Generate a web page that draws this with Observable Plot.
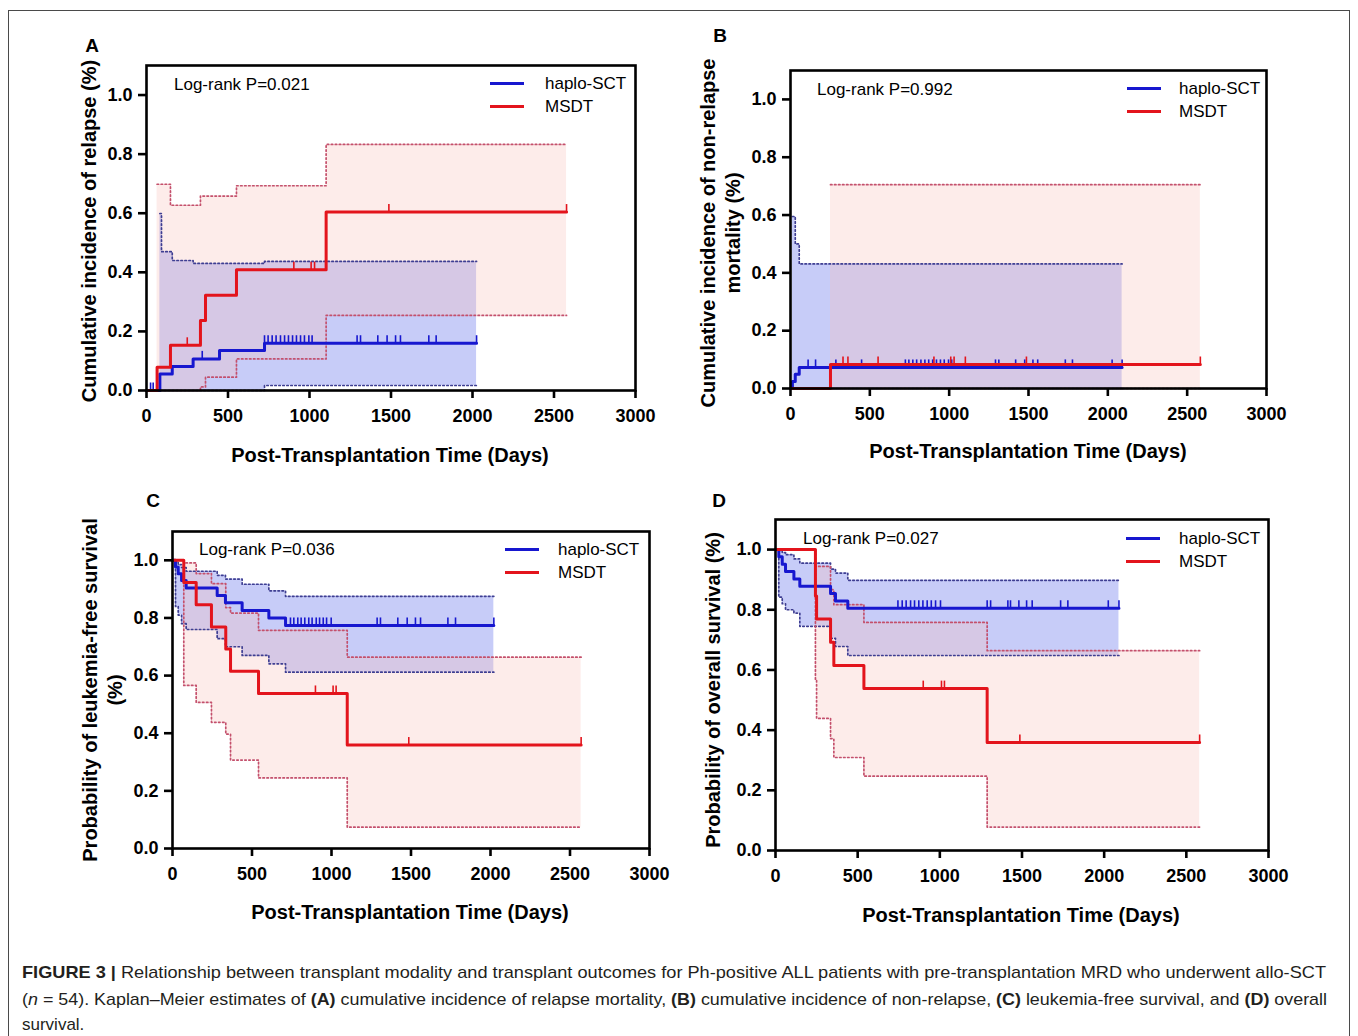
<!DOCTYPE html>
<html>
<head>
<meta charset="utf-8">
<script src="https://cdn.jsdelivr.net/npm/d3@7"></script>
<script src="https://cdn.jsdelivr.net/npm/@observablehq/plot@0.6"></script>
<style>
  html, body { margin: 0; padding: 0; background: #fff; }
  #fig { position: relative; width: 1358px; height: 1036px; overflow: hidden;
         font-family: Arial, "Liberation Sans", Helvetica, sans-serif; color: #000; }
  .t { position: absolute; white-space: nowrap; line-height: 1; }
  .border { position: absolute; left: 8px; top: 10px; width: 1342px; height: 1100px;
            border: 1.5px solid #4a4a4a; box-sizing: border-box; }
  .cap { position: absolute; left: 22px; font-size: 17px; color: #231f20; white-space: nowrap;
         transform-origin: 0 50%; line-height: 1; }
</style>
</head>
<body>
<div id="fig"><div class="border"></div></div>
<script>
// ---------------- shared ticks / labels ----------------
const X_TICKS = [0, 500, 1000, 1500, 2000, 2500, 3000];
const Y_TICKS = [0, 0.2, 0.4, 0.6, 0.8, 1.0];
const SERIES = ["haplo-SCT", "MSDT"];

// ---------------- Panel A : cumulative incidence of relapse ----------------
const A_haploT = [0, 82, 158, 286, 448, 724, 2025];
const A_haploV = [0, 0.056, 0.081, 0.107, 0.135, 0.160, 0.160];
const A_haploCiT = [82, 92, 158, 286, 724, 2025];
const A_haploCiLo = [0, 0, 0, 0, 0.017, 0.017];
const A_haploCiHi = [0.599, 0.470, 0.440, 0.430, 0.437, 0.437];
const A_haploCensor = [25, 41, 342, 724, 746, 771, 795, 822, 847, 871, 896, 920, 945, 969, 996, 1016,
                       1292, 1313, 1419, 1476, 1528, 1558, 1732, 1777, 2025];
const A_msdtT = [0, 65, 147, 331, 362, 552, 1102, 2577];
const A_msdtV = [0, 0.079, 0.153, 0.237, 0.322, 0.409, 0.604, 0.604];
const A_msdtCiT = [65, 147, 331, 362, 552, 1102, 2577];
const A_msdtCiLo = [0, 0, 0.012, 0.045, 0.107, 0.254, 0.254];
const A_msdtCiHi = [0.698, 0.627, 0.658, 0.658, 0.693, 0.833, 0.833];
const A_msdtCensor = [250, 904, 1010, 1031, 1487, 2577];

// ---------------- Panel B : non-relapse mortality ----------------
const B_haploT = [0, 12, 30, 55, 2090];
const B_haploV = [0, 0.024, 0.049, 0.073, 0.073];
const B_haploCiT = [12, 30, 55, 2090];
const B_haploCiLo = [0, 0, 0, 0];
const B_haploCiHi = [0.595, 0.500, 0.431, 0.431];
const B_haploCensor = [111, 158, 286, 448, 724, 746, 771, 795, 822, 847, 871, 896, 920, 945, 969, 996, 1016,
                       1292, 1313, 1419, 1476, 1528, 1558, 1732, 1777, 2027, 2090];
const B_msdtT = [0, 252, 2583];
const B_msdtV = [0, 0.083, 0.083];
const B_msdtCiT = [252, 2583];
const B_msdtCiLo = [0, 0];
const B_msdtCiHi = [0.705, 0.705];
const B_msdtCensor = [331, 362, 552, 904, 1010, 1031, 1102, 1487, 2583];

// ---------------- Panel C : leukemia-free survival ----------------
const C_haploT = [0, 19, 36, 57, 86, 281, 333, 438, 606, 711, 2021];
const C_haploV = [1, 0.977, 0.953, 0.930, 0.904, 0.878, 0.853, 0.826, 0.800, 0.774, 0.774];
const C_haploCiT = C_haploT;
const C_haploCiLo = [1, 0.840, 0.810, 0.780, 0.760, 0.728, 0.700, 0.670, 0.641, 0.612, 0.612];
const C_haploCiHi = [1, 0.995, 0.985, 0.975, 0.962, 0.948, 0.935, 0.917, 0.894, 0.875, 0.875];
const C_haploCensor = [742, 763, 788, 809, 832, 857, 878, 904, 925, 948, 969, 998,
                       1287, 1308, 1417, 1476, 1528, 1560, 1732, 1780, 2021];
const C_msdtT = [0, 71, 149, 245, 335, 365, 541, 1099, 2570];
const C_msdtV = [1, 0.923, 0.846, 0.769, 0.692, 0.615, 0.538, 0.359, 0.359];
const C_msdtCiT = C_msdtT;
const C_msdtCiLo = [1, 0.566, 0.507, 0.438, 0.397, 0.307, 0.245, 0.074, 0.074];
const C_msdtCiHi = [1, 0.991, 0.954, 0.919, 0.836, 0.817, 0.757, 0.664, 0.664];
const C_msdtCensor = [899, 1010, 1029, 1486, 2570];

// ---------------- Panel D : overall survival ----------------
const D_haploT = [0, 20, 41, 61, 112, 148, 335, 365, 440, 2090];
const D_haploV = [1, 0.976, 0.951, 0.927, 0.902, 0.878, 0.854, 0.829, 0.805, 0.805];
const D_haploCiT = D_haploT;
const D_haploCiLo = [1, 0.842, 0.820, 0.800, 0.789, 0.745, 0.705, 0.678, 0.648, 0.648];
const D_haploCiHi = [1, 0.995, 0.990, 0.983, 0.969, 0.955, 0.935, 0.922, 0.898, 0.898];
const D_haploCensor = [745, 771, 795, 822, 846, 872, 897, 923, 948, 974, 1004,
                       1288, 1309, 1414, 1430, 1481, 1528, 1562, 1735, 1779, 2025, 2090];
const D_msdtT = [0, 243, 250, 335, 355, 538, 1288, 2581];
const D_msdtV = [1, 0.846, 0.769, 0.692, 0.615, 0.538, 0.359, 0.359];
const D_msdtCiT = D_msdtT;
const D_msdtCiLo = [1, 0.567, 0.439, 0.372, 0.309, 0.247, 0.078, 0.078];
const D_msdtCiHi = [1, 0.944, 0.944, 0.867, 0.817, 0.758, 0.664, 0.664];
const D_msdtCensor = [899, 1010, 1028, 1487, 2581];

// ---------------- styling constants ----------------
const BLUE = "#1717cf", RED = "#e3141c";
const BLUE_FILL = "#c7ccf8", RED_FILL = "#f8c0b9";
const BLUE_DOT = "#3e3e92", RED_DOT = "#c4506c";
const FONT = 'Arial, "Liberation Sans", Helvetica, sans-serif';

const rows = (t, v) => t.map((d, i) => ({t: d, v: v[i]}));
const ciRows = (t, lo, hi) => t.map((d, i) => ({t: d, lo: lo[i], hi: hi[i]}));
function stepAt(T, V, t) { let v = V[0]; for (let i = 0; i < T.length; i++) if (T[i] <= t) v = V[i]; return v; }
const censorRows = (times, T, V) => times.map(t => ({t, v: stepAt(T, V, t)}));
const censorTick = { draw(ctx) { ctx.moveTo(0, 0); ctx.lineTo(0, -8); } };

const fig = document.getElementById("fig");

function panel(p) {
  const ML = 70, MR = 20, MT = 10, MB = 45;
  const haplo = rows(p.hT, p.hV), msdt = rows(p.mT, p.mV);
  const hCi = ciRows(p.hCiT, p.hCiLo, p.hCiHi), mCi = ciRows(p.mCiT, p.mCiLo, p.mCiHi);
  const hC = censorRows(p.hCens, p.hT, p.hV), mC = censorRows(p.mCens, p.mT, p.mV);
  const chart = Plot.plot({
    width: (p.R - p.L) + ML + MR,
    height: (p.B - p.T) + MT + MB,
    marginLeft: ML, marginRight: MR, marginTop: MT, marginBottom: MB,
    x: {domain: [0, 3000]},
    y: {domain: [0, 1.1]},
    style: {fontFamily: FONT, fontSize: "18px", fontWeight: "bold", color: "#000",
            background: "transparent", overflow: "visible"},
    marks: [
      Plot.areaY(hCi, {x: "t", y1: "lo", y2: "hi", curve: "step-after", fill: BLUE_FILL}),
      Plot.areaY(mCi, {x: "t", y1: "lo", y2: "hi", curve: "step-after", fill: RED_FILL, fillOpacity: 0.3}),
      Plot.line(hCi, {x: "t", y: "hi", curve: "step-after", stroke: BLUE_DOT, strokeWidth: 1.7, strokeDasharray: "1.5 2.5"}),
      Plot.line(hCi, {x: "t", y: "lo", curve: "step-after", stroke: BLUE_DOT, strokeWidth: 1.7, strokeDasharray: "1.5 2.5"}),
      Plot.line(mCi, {x: "t", y: "hi", curve: "step-after", stroke: RED_DOT, strokeWidth: 1.7, strokeDasharray: "1.5 2.5"}),
      Plot.line(mCi, {x: "t", y: "lo", curve: "step-after", stroke: RED_DOT, strokeWidth: 1.7, strokeDasharray: "1.5 2.5"}),
      Plot.line(haplo, {x: "t", y: "v", curve: "step-after", stroke: BLUE, strokeWidth: 3}),
      Plot.dot(hC, {x: "t", y: "v", symbol: censorTick, stroke: BLUE, strokeWidth: 1.6, fill: "none"}),
      Plot.line(msdt, {x: "t", y: "v", curve: "step-after", stroke: RED, strokeWidth: 3}),
      Plot.dot(mC, {x: "t", y: "v", symbol: censorTick, stroke: RED, strokeWidth: 1.6, fill: "none"}),
      Plot.frame({stroke: "#000", strokeWidth: 2.6}),
      Plot.axisX({ticks: X_TICKS, tickFormat: d => String(d), tickSize: 8, tickPadding: 11,
                  strokeWidth: 2.6, label: null}),
      Plot.axisY({ticks: Y_TICKS, tickFormat: d => d.toFixed(1), tickSize: 8, tickPadding: 6,
                  strokeWidth: 2.6, label: null})
    ]
  });
  chart.style.position = "absolute";
  chart.style.left = (p.L - ML) + "px";
  chart.style.top = (p.T - MT) + "px";
  fig.appendChild(chart);
}

function text(str, x, y, opts = {}) {
  const d = document.createElement("div");
  d.className = "t";
  d.innerHTML = str;
  d.style.left = x + "px";
  d.style.top = y + "px";
  d.style.fontSize = (opts.size || 17) + "px";
  d.style.fontWeight = opts.bold ? "bold" : "normal";
  const anchor = opts.anchor || "middle";
  let tr = anchor === "start" ? "translate(0,-50%)" : "translate(-50%,-50%)";
  if (opts.rotate) tr += " rotate(-90deg)";
  d.style.transform = tr;
  fig.appendChild(d);
  return d;
}
function legend(x, y, textX) {
  [BLUE, RED].forEach((c, i) => {
    const ln = document.createElement("div");
    ln.style.cssText = `position:absolute;left:${x}px;top:${y + i * 23 - 1.5}px;width:34px;height:3px;background:${c};`;
    fig.appendChild(ln);
    text(SERIES[i], textX, y + i * 23, {anchor: "start", size: 17});
  });
}

// ---------------- panels ----------------
panel({L: 146, R: 635, T: 65, B: 390,
  hT: A_haploT, hV: A_haploV, hCiT: A_haploCiT, hCiLo: A_haploCiLo, hCiHi: A_haploCiHi, hCens: A_haploCensor,
  mT: A_msdtT, mV: A_msdtV, mCiT: A_msdtCiT, mCiLo: A_msdtCiLo, mCiHi: A_msdtCiHi, mCens: A_msdtCensor});
panel({L: 790, R: 1266, T: 70, B: 388,
  hT: B_haploT, hV: B_haploV, hCiT: B_haploCiT, hCiLo: B_haploCiLo, hCiHi: B_haploCiHi, hCens: B_haploCensor,
  mT: B_msdtT, mV: B_msdtV, mCiT: B_msdtCiT, mCiLo: B_msdtCiLo, mCiHi: B_msdtCiHi, mCens: B_msdtCensor});
panel({L: 172, R: 649, T: 531, B: 848,
  hT: C_haploT, hV: C_haploV, hCiT: C_haploCiT, hCiLo: C_haploCiLo, hCiHi: C_haploCiHi, hCens: C_haploCensor,
  mT: C_msdtT, mV: C_msdtV, mCiT: C_msdtCiT, mCiLo: C_msdtCiLo, mCiHi: C_msdtCiHi, mCens: C_msdtCensor});
panel({L: 775, R: 1268, T: 519, B: 850,
  hT: D_haploT, hV: D_haploV, hCiT: D_haploCiT, hCiLo: D_haploCiLo, hCiHi: D_haploCiHi, hCens: D_haploCensor,
  mT: D_msdtT, mV: D_msdtV, mCiT: D_msdtCiT, mCiLo: D_msdtCiLo, mCiHi: D_msdtCiHi, mCens: D_msdtCensor});

// ---------------- panel letters ----------------
text("A", 92, 45, {bold: true, size: 19});
text("B", 720, 35, {bold: true, size: 19});
text("C", 153, 500, {bold: true, size: 19});
text("D", 719, 500, {bold: true, size: 19});

// ---------------- log-rank annotations ----------------
text("Log-rank P=0.021", 174, 84, {anchor: "start", size: 17});
text("Log-rank P=0.992", 817, 89, {anchor: "start", size: 17});
text("Log-rank P=0.036", 199, 549, {anchor: "start", size: 17});
text("Log-rank P=0.027", 803, 538, {anchor: "start", size: 17});

// ---------------- legends ----------------
legend(490, 83, 545);
legend(1127, 88, 1179);
legend(505, 549, 558);
legend(1126, 538, 1179);

// ---------------- axis titles ----------------
const XT = "Post-Transplantation Time (Days)";
text(XT, 390, 455, {bold: true, size: 20});
text(XT, 1028, 451, {bold: true, size: 20});
text(XT, 410, 912, {bold: true, size: 20});
text(XT, 1021, 915, {bold: true, size: 20});
text("Cumulative incidence of relapse (%)", 89, 231, {bold: true, size: 20, rotate: true});
text("Cumulative incidence of non-relapse", 708, 233, {bold: true, size: 20, rotate: true});
text("mortality (%)", 733, 233, {bold: true, size: 20, rotate: true});
text("Probability of leukemia-free survival", 90, 690, {bold: true, size: 20, rotate: true});
text("(%)", 115, 690, {bold: true, size: 20, rotate: true});
text("Probability of overall survival (%)", 713, 690, {bold: true, size: 20, rotate: true});

// ---------------- caption ----------------
const capLines = [
  {html: '<b>FIGURE 3 |</b> Relationship between transplant modality and transplant outcomes for Ph-positive ALL patients with pre-transplantation MRD who underwent allo-SCT', y: 972, w: 1304},
  {html: '(<i>n</i> = 54). Kaplan–Meier estimates of <b>(A)</b> cumulative incidence of relapse mortality, <b>(B)</b> cumulative incidence of non-relapse, <b>(C)</b> leukemia-free survival, and <b>(D)</b> overall', y: 999, w: 1305},
  {html: 'survival.', y: 1024, w: 0}
];
capLines.forEach(c => {
  const d = document.createElement("div");
  d.className = "cap";
  d.innerHTML = c.html;
  d.style.top = c.y + "px";
  fig.appendChild(d);
  const w = d.getBoundingClientRect().width;
  const sx = c.w ? c.w / w : 1;
  d.style.transform = `translateY(-50%) scaleX(${sx})`;
});
</script>
</body>
</html>
